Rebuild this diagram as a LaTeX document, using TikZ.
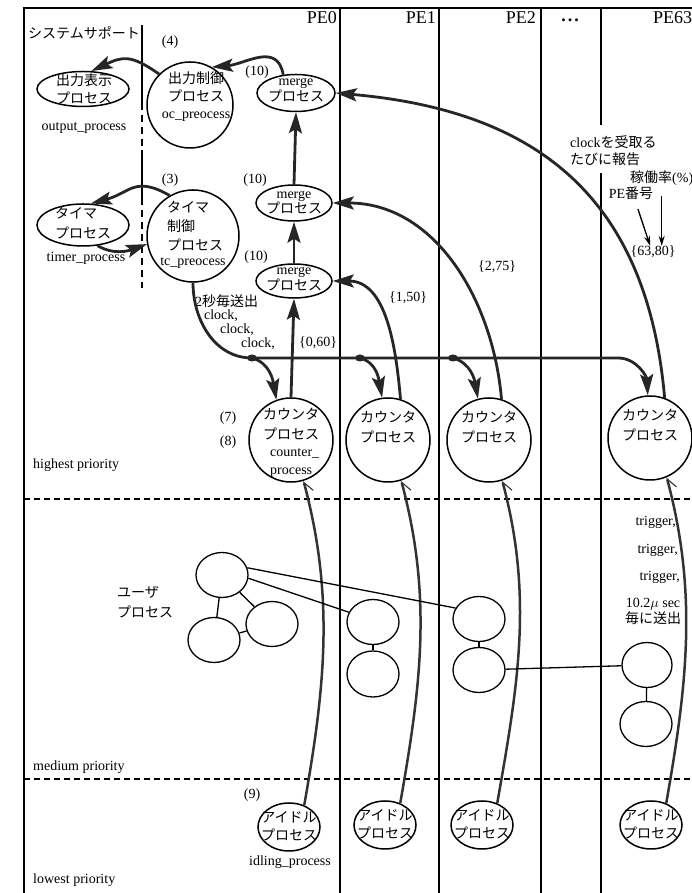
\documentclass[tikz,border=0pt]{standalone}
\usepackage{fontspec}
\setmainfont{Liberation Serif}
\newfontfamily\jpfont{Noto Sans CJK JP}
\newcommand{\ja}[1]{{\jpfont #1}}
\usetikzlibrary{arrows.meta,shapes.geometric}

\begin{document}
\begin{tikzpicture}[x=1pt, y=1pt,
    lbl/.style={inner sep=0pt, font=\fontsize{14}{17.5}\selectfont, align=center},
    pelbl/.style={inner sep=0pt, font=\fontsize{18}{20}\selectfont},
    proc/.style={ellipse, draw, line width=1.5pt, inner sep=0pt},
    cproc/.style={circle, draw, line width=1.5pt, inner sep=0pt, minimum size=84},
    uproc/.style={ellipse, draw, line width=1.3pt, inner sep=0pt, minimum width=52, minimum height=45},
    flow/.style={line width=2.8pt, draw=black!85, -{Stealth[length=21pt, width=13pt, inset=4pt]}},
    idle/.style={line width=2.5pt, draw=black!80, -{Straight Barb[harpoon, swap, length=10pt, width=14pt, line width=1.1pt]}},
    ptr/.style={line width=1.3pt, -{Stealth[length=10pt, width=6pt]}},
    link/.style={line width=1.3pt},
    jdot/.style={ellipse, fill=black!85, inner sep=0pt, minimum width=10pt, minimum height=7pt},
    colline/.style={line width=1.4pt},
    prioline/.style={line width=1.4pt, dash pattern=on 6pt off 4pt},
]
\useasboundingbox (0,0) rectangle (692,893);
\draw[colline] (24,0) -- (24,885) -- (692,885);
\foreach \x in {340,439,541} \draw[colline] (\x,0) -- (\x,885);
\draw[colline] (601,885) -- (601,768) (601,720) -- (601,0);
\draw[prioline] (24,394) -- (692,394);
\draw[prioline] (24,114) -- (692,114);
\draw[line width=1.8pt, dash pattern=on 85pt off 5pt on 7pt off 5pt on 7pt off 5pt on 7pt off 4pt on 55pt off 5pt on 7pt off 5pt on 7pt off 5pt on 7pt off 5pt on 7pt off 5pt on 7pt off 5pt on 7pt off 5pt] (142,868) -- (142,605);

\node[pelbl, anchor=base east] (pe0) at (337,869) {PE0};
\node[pelbl, anchor=base east] (pe1) at (436,869) {PE1};
\node[pelbl, anchor=base east] (pe2) at (536,869) {PE2};
\node[pelbl, anchor=base] (pedots) at (570,871) {\textbf{.\hspace{2pt}.\hspace{2pt}.}};
\node[pelbl, anchor=base west] (pe63) at (653,869) {PE63};

\node[lbl, anchor=west] (sysl) at (28,860) {\ja{システムサポート}};
\node[lbl] (n4) at (170,851) {(4)};
\node[lbl] (n10a) at (257,821) {(10)};
\node[lbl] (n3) at (170,713) {(3)};
\node[lbl] (n10b) at (255,713) {(10)};
\node[lbl] (n10c) at (256,636) {(10)};
\node[lbl] (n7) at (228,475) {(7)};
\node[lbl] (n8) at (228,451) {(8)};
\node[lbl] (n9) at (252,98) {(9)};

\node[proc, minimum width=92, minimum height=35] (outdisp) at (83,804) {};
\node[lbl] (outdisp-t) at (84,804) {\ja{出力表示}\\\ja{プロセス}};
\node[lbl] (outdisp-n) at (84,765) {output\_process};
\node[cproc, minimum size=86] (oc) at (190,788) {};
\node[lbl] (oc-t) at (196,796) {\ja{出力制御}\\\ja{プロセス}\\oc\_preocess};
\node[proc, minimum width=78, minimum height=37] (m3) at (296,800) {};
\node[lbl, font=\fontsize{14}{15.5}\selectfont] (m3-t) at (296,803) {merge\\\ja{プロセス}};

\node[proc, minimum width=92, minimum height=42] (timer) at (83,668) {};
\node[lbl, anchor=west, align=left, font=\fontsize{14}{20}\selectfont] (timer-t) at (55,670) {\ja{タイマ}\\\ja{プロセス}};
\node[lbl] (timer-n) at (86,635) {timer\_process};
\node[cproc, minimum size=92] (tc) at (193,657) {};
\node[lbl, anchor=west, align=left, font=\fontsize{14}{19}\selectfont] (tc-t) at (167,667) {\ja{タイマ}\\\ja{制御}\\\ja{プロセス}};
\node[lbl] (tc-n) at (193,630) {tc\_preocess};
\node[proc, minimum width=76, minimum height=36] (m2) at (294,690) {};
\node[lbl, font=\fontsize{14}{15.5}\selectfont] (m2-t) at (294,690.5) {merge\\\ja{プロセス}};
\node[proc, minimum width=76, minimum height=34] (m1) at (294,612) {};
\node[lbl, font=\fontsize{14}{15.5}\selectfont] (m1-t) at (294,614) {merge\\\ja{プロセス}};

\node[lbl, anchor=west] (sec2) at (195,592) {2\ja{秒毎送出}};
\node[lbl] (clk1) at (221,577) {clock,};
\node[lbl] (clk2) at (237,563) {clock,};
\node[lbl] (clk3) at (258,549) {clock,};
\node[lbl] (v0) at (318,550) {\{0,60\}};
\node[lbl] (v1) at (408,595) {\{1,50\}};
\node[lbl] (v2) at (497,626) {\{2,75\}};
\node[lbl, anchor=west, align=left, font=\fontsize{14}{17}\selectfont] (rep) at (570,742.5) {clock\ja{を受取る}\\\ja{たびに報告}};
\node[lbl, anchor=west] (rate) at (630,715) {\ja{稼働率}(\%)};
\node[lbl] (penum) at (631,700) {PE\ja{番号}};
\node[lbl] (v63) at (653,641) {\{63,80\}};

\node[cproc] (cnt0) at (291,453) {};
\node[lbl, font=\fontsize{14}{20}\selectfont] (cnt0-t) at (291,469) {\ja{カウンタ}\\\ja{プロセス}};
\node[lbl, anchor=west, align=left, font=\fontsize{14}{18}\selectfont] (cnt0-n) at (270,430) {counter\_\\process};
\node[cproc] (cnt1) at (388,453) {};
\node[lbl, font=\fontsize{14}{20}\selectfont] (cnt1-t) at (388,466) {\ja{カウンタ}\\\ja{プロセス}};
\node[cproc] (cnt2) at (489,453) {};
\node[lbl, font=\fontsize{14}{20}\selectfont] (cnt2-t) at (489,466) {\ja{カウンタ}\\\ja{プロセス}};
\node[cproc] (cnt63) at (650,455) {};
\node[lbl, font=\fontsize{14}{20}\selectfont] (cnt63-t) at (650,467.5) {\ja{カウンタ}\\\ja{プロセス}};

\node[lbl, anchor=west] (hp) at (33,428) {highest priority};
\node[lbl, anchor=west] (mp) at (33,126) {medium priority};
\node[lbl, anchor=west] (lp) at (33,13) {lowest priority};

\node[lbl, anchor=west, align=left, font=\fontsize{14}{20}\selectfont] (usr) at (117,291) {\ja{ユーザ}\\\ja{プロセス}};
\node[uproc] (ua) at (222,318) {};
\node[uproc] (ub) at (272,269) {};
\node[uproc] (uc) at (214,253) {};
\node[uproc] (u1a) at (373,271) {};
\node[uproc, minimum height=46] (u1b) at (373,219) {};
\node[uproc] (u2a) at (479,274) {};
\node[uproc] (u2b) at (479,223) {};
\node[uproc, minimum width=50] (u63a) at (647,228) {};
\node[uproc] (u63b) at (646,169) {};

\node[lbl, anchor=east] (trig1) at (676,371) {trigger,};
\node[lbl, anchor=east] (trig2) at (678,343) {trigger,};
\node[lbl, anchor=east] (trig3) at (680,316) {trigger,};
\node[lbl, font=\fontsize{14}{14}\selectfont] (per) at (653,281.5) {10.2$\mu$ sec\\\ja{毎に送出}};

\node[proc, minimum width=62, minimum height=48] (idl0) at (289,66) {};
\node[lbl, font=\fontsize{14}{18}\selectfont] (idl0-t) at (289,67) {\ja{アイドル}\\\ja{プロセス}};
\node[lbl] (idl0-n) at (290,31) {idling\_process};
\node[proc, minimum width=62, minimum height=48] (idl1) at (385,68) {};
\node[lbl, font=\fontsize{14}{18}\selectfont] (idl1-t) at (385,69) {\ja{アイドル}\\\ja{プロセス}};
\node[proc, minimum width=62, minimum height=48] (idl2) at (482,68) {};
\node[lbl, font=\fontsize{14}{18}\selectfont] (idl2-t) at (482,69) {\ja{アイドル}\\\ja{プロセス}};
\node[proc, minimum width=62, minimum height=48] (idl63) at (651,68) {};
\node[lbl, font=\fontsize{14}{18}\selectfont] (idl63-t) at (651,69) {\ja{アイドル}\\\ja{プロセス}};

\draw[flow] (oc.135) to[out=145, in=25, looseness=1.3] (outdisp.65);
\draw[flow] (m3.125) to[out=100, in=5, looseness=1.2] (oc.60);
\draw[flow] (m2.north) -- (m3.south);
\draw[flow] (m1.north) -- (m2.south);
\draw[flow] (cnt0.north) -- (m1.south);
\draw[flow] (cnt1.73) to[out=95, in=0] (m1.east);
\draw[flow] (cnt2.73) to[out=95, in=0] (m2.east);
\draw[flow] (cnt63.70) to[out=95, in=-5, looseness=1.15] (m3.east);
\draw[flow] (tc.120) to[out=150, in=15, looseness=1.3] (timer.70);
\draw[flow] (timer.-55) to[out=-30, in=200] (tc.190);

\node[jdot] (j0) at (252,535) {};
\node[jdot] (j1) at (360,535) {};
\node[jdot] (j2) at (453,535) {};
\coordinate (j3) at (618,535);
\draw[flow] (tc.south) to[out=-90, in=180] (j0.center) -- (j3) to[out=0, in=93] (cnt63.93);
\draw[flow] (j0.center) to[out=-15, in=100] (cnt0.110);
\draw[flow] (j1.center) to[out=-15, in=100] (cnt1.98);
\draw[flow] (j2.center) to[out=-15, in=100] (cnt2.105);

\draw[idle] (idl0.55) .. controls +(80:120) and +(-75:120) .. (cnt0.-73);
\draw[idle] (idl1.55) .. controls +(80:120) and +(-75:120) .. (cnt1.-72);
\draw[idle] (idl2.55) .. controls +(80:120) and +(-75:120) .. (cnt2.-72);
\draw[idle] (idl63.55) .. controls +(80:120) and +(-75:120) .. (cnt63.-67);

\draw[link] (ua) -- (ub);
\draw[link] (ua) -- (uc);
\draw[link] (uc) -- (ub);
\draw[link] (ua.16) -- (u2a.155);
\draw[link] (ua.-7) -- (u1a.158);
\draw[link] (u1a) -- (u1b);
\draw[link] (u2a) -- (u2b);
\draw[link] (u2b) -- (u63a);
\draw[link] (u63a) -- (u63b);

\draw[ptr, shorten <=10pt] (rate.south) -- (rate.south |- v63.north);
\draw[ptr, shorten <=10pt] (penum.-60) -- (v63.115);
\end{tikzpicture}
\end{document}
